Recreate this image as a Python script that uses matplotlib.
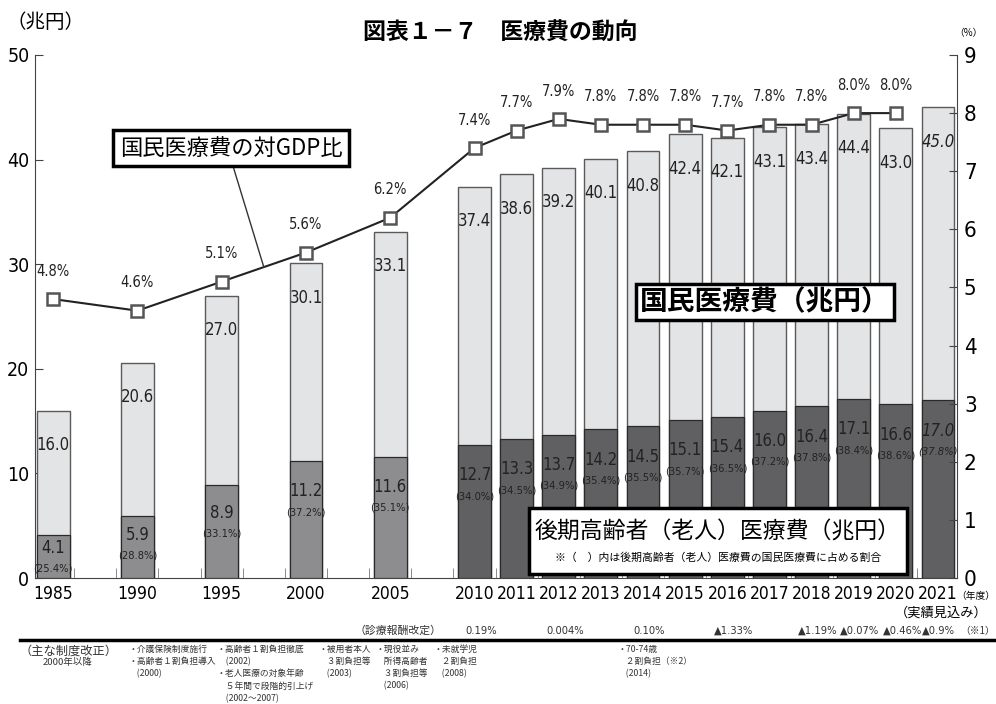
import matplotlib
matplotlib.use("Agg")
import matplotlib.pyplot as plt
from matplotlib.lines import Line2D
from matplotlib.patches import Rectangle

JP = ["Noto Sans CJK JP", "DejaVu Sans"]
NUM = ["DejaVu Sans"]
plt.rcParams["font.family"] = NUM
plt.rcParams["font.stretch"] = "condensed"

# data
years = ["1985", "1990", "1995", "2000", "2005", "2010", "2011", "2012", "2013",
         "2014", "2015", "2016", "2017", "2018", "2019", "2020", "2021"]
total = [16.0, 20.6, 27.0, 30.1, 33.1, 37.4, 38.6, 39.2, 40.1, 40.8, 42.4, 42.1,
         43.1, 43.4, 44.4, 43.0, 45.0]
elderly = [4.1, 5.9, 8.9, 11.2, 11.6, 12.7, 13.3, 13.7, 14.2, 14.5, 15.1, 15.4,
           16.0, 16.4, 17.1, 16.6, 17.0]
elderly_share = ["25.4", "28.8", "33.1", "37.2", "35.1", "34.0", "34.5", "34.9",
                 "35.4", "35.5", "35.7", "36.5", "37.2", "37.8", "38.4", "38.6", "37.8"]
gdp_ratio = [4.8, 4.6, 5.1, 5.6, 6.2, 7.4, 7.7, 7.9, 7.8, 7.8, 7.8, 7.7, 7.8, 7.8,
             8.0, 8.0]  # no value for 2021
revision_years = ["2010", "2012", "2014", "2016", "2018", "2019", "2020", "2021"]
revision_rates = ["0.19%", "0.004%", "0.10%", "▲1.33%", "▲1.19%", "▲0.07%",
                  "▲0.46%", "▲0.9%"]

# five-year steps first, then yearly
pos = [2 * i for i in range(5)] + [10 + i for i in range(12)]
W, H = 996, 704

fig = plt.figure(figsize=(W / 100, H / 100), dpi=100)
ax = fig.add_axes([35 / W, 1 - 578 / H, 922 / W, 523 / H])
ax2 = ax.twinx()

light = "#e3e4e6"
mid = "#8d8d8f"
dark = "#606063"
txt = "#222222"

ax.bar(pos, total, width=0.78, color=light, edgecolor="#5a5a5a", linewidth=1.0, zorder=2)
e_colors = [mid if int(y) < 2010 else dark for y in years]
ax.bar(pos, elderly, width=0.78, color=e_colors, edgecolor="#2a2a2a", linewidth=0.9, zorder=3)

for x, y, t, e, s in zip(pos, years, total, elderly, elderly_share):
    style = "italic" if y == "2021" else "normal"
    ax.text(x, t - 3.3, f"{t:.1f}", ha="center", va="center", fontsize=12,
            color=txt, style=style, zorder=4)
    ey = e - min(2.9, 0.3 * e)
    ax.text(x, ey, f"{e:.1f}", ha="center", va="center", fontsize=12,
            color=txt, style=style, zorder=4)
    ax.text(x, ey - 2.0, f"({s}%)", ha="center", va="center", fontsize=8,
            color=txt, style=style, zorder=4)

ax2.plot(pos[:len(gdp_ratio)], gdp_ratio, color="#222222", lw=1.5, marker="s",
         markersize=8, mfc="white", mec="#555555", mew=1.8, zorder=5)
for x, v in zip(pos, gdp_ratio):
    ax2.annotate(f"{v:.1f}%", (x, v), xytext=(0, 20), textcoords="offset points",
                 ha="center", va="center", fontsize=10.5, color=txt)

ax.set_xlim(-0.43, 21.45)
ax.set_ylim(0, 50)
ax2.set_ylim(0, 9)
ax.set_yticks(range(0, 51, 10))
ax2.set_yticks(range(0, 10))
ax.set_xticks(pos)
ax.set_xticklabels(years)
ax.set_xticks([k + 0.5 for k in range(21)], minor=True)

ax.tick_params(axis="x", which="major", length=0, labelsize=12.5, pad=5)
ax.tick_params(axis="x", which="minor", direction="in", length=7, color="#777777")
ax.tick_params(axis="y", direction="in", length=6, color="#444444", labelsize=14, pad=4)
ax2.tick_params(axis="y", direction="in", length=6, color="#444444", labelsize=16, pad=5)

for a in (ax, ax2):
    a.spines["top"].set_visible(False)
    for sp in a.spines.values():
        sp.set_color("#444444")
ax.spines["right"].set_visible(False)
ax2.spines["left"].set_visible(False)
ax2.spines["bottom"].set_visible(False)

# title and unit labels
fig.text(500 / W, 1 - 33 / H, "図表１－７　医療費の動向", ha="center", va="center",
         fontsize=16.5, fontweight="bold", family=JP)
fig.text(6 / W, 1 - 22 / H, "（兆円）", ha="left", va="center", fontsize=14, family=JP)
fig.text(968 / W, 1 - 33 / H, "（%）", ha="center", va="center", fontsize=7, family=JP)
fig.text(976 / W, 1 - 596 / H, "（年度）", ha="center", va="center", fontsize=7, family=JP)
fig.text(941 / W, 1 - 613 / H, "（実績見込み）", ha="center", va="center", fontsize=9.5, family=JP)

# labelled boxes
xm = (pos[2] + pos[3]) / 2
ym = (gdp_ratio[2] + gdp_ratio[3]) / 2
ax2.annotate("国民医療費の対GDP比", xy=(xm, ym), xycoords="data",
             xytext=(231 / W, 1 - 148 / H), textcoords="figure fraction",
             ha="center", va="center", fontsize=16, family=JP, zorder=10,
             bbox=dict(boxstyle="square,pad=0.3", fc="white", ec="black", lw=2.5),
             arrowprops=dict(arrowstyle="-", color="#333333", lw=1.0,
                             shrinkA=0, shrinkB=0, relpos=(0.5, 0)))

fig.text(765 / W, 1 - 302 / H, "国民医療費（兆円）", ha="center", va="center",
         fontsize=20, fontweight="bold", family=JP, zorder=10,
         bbox=dict(boxstyle="square,pad=0.15", fc="white", ec="black", lw=2.5))

fig.patches.append(Rectangle((529 / W, 1 - 574 / H), 378 / W, 66 / H,
                             transform=fig.transFigure, fc="white", ec="black",
                             lw=2.5, zorder=9))
fig.text(718 / W, 1 - 532 / H, "後期高齢者（老人）医療費（兆円）", ha="center", va="center",
         fontsize=16.5, family=JP, zorder=10)
fig.text(718 / W, 1 - 558 / H, "※（　）内は後期高齢者（老人）医療費の国民医療費に占める割合",
         ha="center", va="center", fontsize=7.8, family=JP, zorder=10)

# fee revision row
xt = ax.get_xaxis_transform()
fig.text(398 / W, 1 - 631 / H, "（診療報酬改定）", ha="center", va="center",
         fontsize=7.8, family=JP, color="#333333")
for y, r in zip(revision_years, revision_rates):
    x = pos[years.index(y)]
    shift = 0.0 if y == "2021" else 0.15
    ax.text(x + shift, -0.101, r, transform=xt, ha="center", va="center",
            fontsize=8, color="#333333", clip_on=False)
fig.text(978 / W, 1 - 631 / H, "（※1）", ha="center", va="center", fontsize=7,
         family=JP, color="#333333")

fig.lines.append(Line2D([20 / W, 1.0], [1 - 640 / H, 1 - 640 / H],
                        transform=fig.transFigure, color="black", lw=2.5))

# major system reforms
fig.text(68 / W, 1 - 645 / H, "（主な制度改正）", ha="center", va="top",
         fontsize=8.8, family=JP, color="#333333")
fig.text(68 / W, 1 - 658 / H, "2000年以降", ha="center", va="top",
         fontsize=6.8, family=JP, color="#333333")
notes = [
    (128, "・介護保険制度施行\n・高齢者１割負担導入\n　(2000)"),
    (217, "・高齢者１割負担徹底\n　(2002)\n・老人医療の対象年齢\n　５年間で段階的引上げ\n　(2002～2007)"),
    (318, "・被用者本人\n　３割負担等\n　(2003)"),
    (375, "・現役並み\n　所得高齢者\n　３割負担等\n　(2006)"),
    (433, "・未就学児\n　２割負担\n　(2008)"),
    (617, "・70-74歳\n　２割負担（※2）\n　(2014)"),
]
for x, s in notes:
    fig.text(x / W, 1 - 645 / H, s, ha="left", va="top", fontsize=6.3,
             family=JP, color="#333333", linespacing=1.45)

fig.savefig("out.png", dpi=100)
